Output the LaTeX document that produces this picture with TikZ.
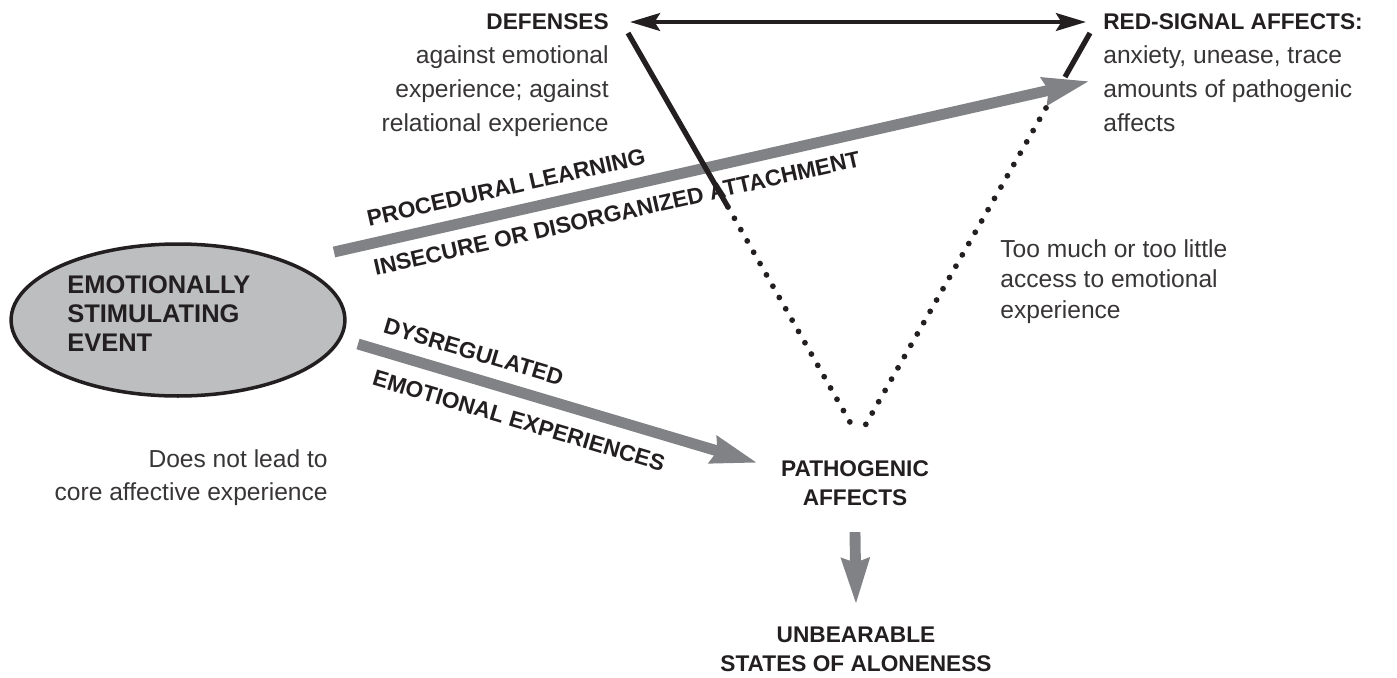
\documentclass[tikz,border=0pt]{standalone}
\usepackage{fontspec}
\setmainfont{Liberation Sans}
\usepackage{tikz}
\usetikzlibrary{arrows.meta, shapes.geometric, positioning}
\definecolor{ink}{HTML}{231F20}
\definecolor{softink}{HTML}{383536}
\definecolor{bandgray}{HTML}{808285}
\definecolor{eventgray}{HTML}{BCBEC0}

\tikzset{
  capstext/.style={font=\fontsize{12.9}{16.5}\selectfont\bfseries, text=ink, inner sep=0pt},
  bodytext/.style={font=\fontsize{14}{19.5}\selectfont, text=softink, inner sep=0pt},
  grayband/.style={draw=bandgray, line width=6.2pt, -{Stealth[length=26pt, width=15pt, inset=2pt]}},
  triside/.style={draw=ink, line width=3pt},
  dotside/.style={draw=ink, line width=3.3pt, line cap=round, dash pattern=on 0pt off 7.4pt},
}

\begin{document}
\begin{tikzpicture}[x=0.02cm, y=-0.02cm]
\useasboundingbox (0,0) rectangle (1397,677);

\coordinate (defc) at (628,33);
\coordinate (redc) at (1090,33);
\coordinate (lbreak) at (728,207);
\coordinate (rbreak) at (1065,77);
\coordinate (rdots) at (1046,108);
\coordinate (lbottom) at (855,431);
\coordinate (rbottom) at (862,431);
\coordinate (defarrow) at (630,22);
\coordinate (redarrow) at (1086,22);

\node[ellipse, draw=ink, line width=2pt, fill=eventgray, minimum width=190pt, minimum height=86.5pt, inner sep=0pt] (event) at (178,320) {};
\node[capstext, font=\fontsize{14.5}{16.5}\selectfont\bfseries, align=left, anchor=north west] (eventlbl) at (67,275) {EMOTIONALLY\\STIMULATING\\EVENT};

\node[bodytext, font=\fontsize{14}{18.8}\selectfont, align=right, anchor=north east] (nocore) at (328,449) {Does not lead to\\core affective experience};

\node[bodytext, align=right, anchor=north east] (defenses) at (609,13) {{\bfseries\color{ink}\fontsize{12.9}{19.5}\selectfont DEFENSES}\\against emotional\\experience; against\\relational experience};
\node[bodytext, align=left, anchor=north west] (redsig) at (1103,13) {{\bfseries\color{ink}\fontsize{12.9}{19.5}\selectfont RED-SIGNAL AFFECTS:}\\anxiety, unease, trace\\amounts of pathogenic\\affects};
\node[bodytext, font=\fontsize{14}{17.4}\selectfont, align=left, anchor=north west] (access) at (1000,239) {Too much or too little\\access to emotional\\experience};

\node[capstext, align=center, anchor=north] (pathlbl) at (855,460) {PATHOGENIC\\AFFECTS};
\node[capstext, align=center, anchor=north] (alonelbl) at (856,627) {UNBEARABLE\\STATES OF ALONENESS};

\coordinate (procstart) at (334,252);
\coordinate (proctip) at (1090,81);
\draw[grayband] (procstart) -- (proctip)
  node[capstext, sloped, pos=0.235, above=6.6pt] (proclbl) {PROCEDURAL LEARNING}
  node[capstext, sloped, pos=0.367, below=6.4pt] (attachlbl) {INSECURE OR DISORGANIZED ATTACHMENT};

\coordinate (dysstart) at (358,344);
\coordinate (dystip) at (758,463);
\draw[grayband] (dysstart) -- (dystip)
  node[capstext, sloped, pos=0.271, above=6.8pt] (dyslbl) {DYSREGULATED}
  node[capstext, sloped, pos=0.422, below=8pt] (emolbl) {EMOTIONAL EXPERIENCES};

\draw[grayband] ([yshift=-15pt]pathlbl.south) -- ([yshift=12.5pt]alonelbl.north);

\draw[triside] (defc) -- (lbreak);
\draw[dotside] (lbreak) -- (lbottom);
\draw[triside] (redc) -- (rbreak);
\draw[dotside] (rdots) -- (rbottom);
\draw[ink, line width=2.6pt, {Stealth[length=17pt, width=10pt, inset=3pt]}-{Stealth[length=17pt, width=10pt, inset=3pt]}] (defarrow) -- (redarrow);
\end{tikzpicture}
\end{document}
